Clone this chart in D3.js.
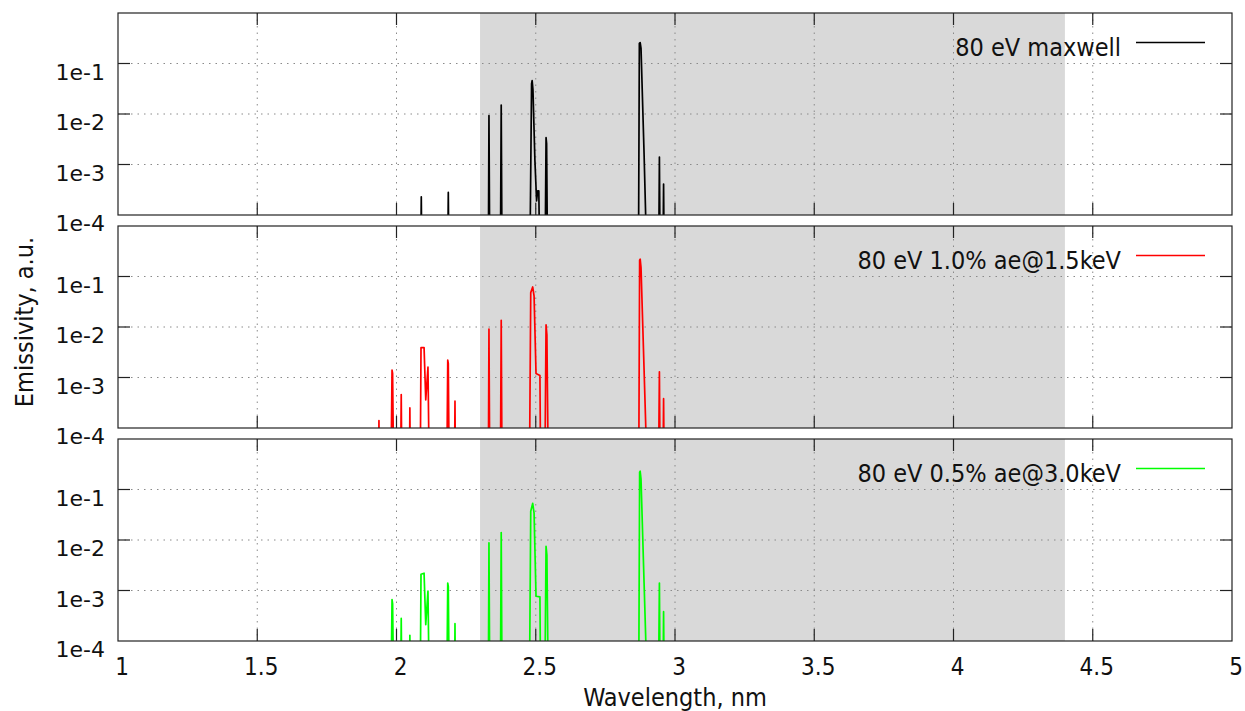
<!DOCTYPE html>
<html>
<head>
<title>Emissivity spectra</title>
<style>
body { margin: 0; background: white; }
text {
    font-family: "DejaVu Sans Condensed", "DejaVu Sans", sans-serif;
    font-stretch: condensed;
    fill: #111;
}
.ytick text { font-family: "DejaVu Sans", sans-serif; font-stretch: normal; font-size: 22px; }
.xtick text { font-size: 24px; }
.legend text { font-size: 25px; }
.title { font-size: 25px; }
.grid line {
    stroke: #8a8a8a;
    stroke-width: 1;
    stroke-dasharray: 1.5, 5;
}
.frame { fill: none; stroke: #222; stroke-width: 1.2; }
.ticks line { stroke: #222; stroke-width: 1.2; }
.band { fill: #d9d9d9; }
.spectrum { fill: none; stroke-width: 1.7; stroke-linejoin: round; }
</style>
</head>
<body>
<div id="chart"></div>
<script src="https://cdn.jsdelivr.net/npm/d3@7"></script>
<script>
    // axis values
    var xTicks = [1, 1.5, 2, 2.5, 3, 3.5, 4, 4.5, 5];
    var yTicks = [1e-4, 1e-3, 1e-2, 1e-1];
    var yTickLabels = ["1e-4", "1e-3", "1e-2", "1e-1"];
    var band = [2.3, 4.4];   // shaded wavelength window, nm

    var seriesNames = ["80 eV maxwell", "80 eV 1.0% ae@1.5keV", "80 eV 0.5% ae@3.0keV"];
    var seriesColors = ["#000000", "#ff0000", "#00ff00"];

    // [wavelength nm, emissivity a.u.] (1e-6 = line wing, under the axis)
    var maxwell = [
        [1.90, 1e-6],
        [2.085, 1e-6], [2.089, 2.3e-4], [2.093, 1e-6],
        [2.182, 1e-6], [2.186, 2.8e-4], [2.190, 1e-6],
        [2.329, 1e-6], [2.332, 9.3e-3], [2.336, 1e-6],
        [2.372, 1e-6], [2.376, 1.5e-2], [2.380, 1e-6],
        [2.477, 1e-6], [2.485, 4.0e-2], [2.487, 4.6e-2], [2.490, 3.0e-2], [2.497, 1.2e-3],
        [2.503, 1.9e-4], [2.507, 3.0e-4], [2.511, 3.0e-4], [2.517, 1e-6],
        [2.532, 1e-6], [2.537, 3.4e-3], [2.539, 2.6e-3], [2.544, 1e-6],
        [2.868, 1e-6], [2.872, 0.25], [2.875, 0.26], [2.878, 0.2], [2.889, 1.6e-3], [2.904, 1e-6],
        [2.940, 1e-6], [2.944, 1.4e-3], [2.948, 1e-6],
        [2.955, 1e-6], [2.959, 4.1e-4], [2.963, 1e-6],
        [3.10, 1e-6]
    ];
    var ae15 = [
        [1.90, 1e-6],
        [1.934, 1e-6], [1.937, 1.4e-4], [1.940, 1e-6],
        [1.978, 1e-6], [1.984, 1.4e-3], [1.986, 1.2e-3], [1.992, 1e-6],
        [2.013, 1e-6], [2.017, 4.6e-4], [2.021, 1e-6],
        [2.045, 1e-6], [2.048, 2.5e-4], [2.051, 1e-6],
        [2.084, 1e-6], [2.088, 3.9e-3], [2.099, 3.9e-3], [2.105, 3.6e-4], [2.113, 1.6e-3], [2.120, 1e-6],
        [2.179, 1e-6], [2.184, 2.2e-3], [2.186, 1.9e-3], [2.191, 1e-6],
        [2.207, 1e-6], [2.210, 3.4e-4], [2.213, 1e-6],
        [2.329, 1e-6], [2.332, 9.1e-3], [2.336, 1e-6],
        [2.372, 1e-6], [2.376, 1.36e-2], [2.380, 1e-6],
        [2.476, 1e-6], [2.482, 4.8e-2], [2.489, 6.2e-2], [2.494, 4.1e-2], [2.501, 1.2e-3],
        [2.515, 1.1e-3], [2.519, 1e-6],
        [2.531, 1e-6], [2.537, 1.1e-2], [2.540, 7.0e-3], [2.547, 1e-6],
        [2.869, 1e-6], [2.873, 0.21], [2.875, 0.22], [2.878, 0.15], [2.889, 1.4e-3], [2.906, 1e-6],
        [2.939, 1e-6], [2.944, 1.3e-3], [2.948, 1e-6],
        [2.955, 1e-6], [2.959, 3.8e-4], [2.963, 1e-6],
        [3.10, 1e-6]
    ];
    var ae30 = [
        [1.90, 1e-6],
        [1.978, 1e-6], [1.984, 6.6e-4], [1.986, 5.5e-4], [1.992, 1e-6],
        [2.013, 1e-6], [2.017, 2.8e-4], [2.021, 1e-6],
        [2.045, 1e-6], [2.048, 1.3e-4], [2.051, 1e-6],
        [2.084, 1e-6], [2.088, 2.1e-3], [2.099, 2.2e-3], [2.105, 2.1e-4], [2.113, 9.7e-4], [2.120, 1e-6],
        [2.179, 1e-6], [2.184, 1.4e-3], [2.186, 1.2e-3], [2.191, 1e-6],
        [2.207, 1e-6], [2.210, 2.2e-4], [2.213, 1e-6],
        [2.329, 1e-6], [2.332, 8.8e-3], [2.336, 1e-6],
        [2.372, 1e-6], [2.376, 1.4e-2], [2.380, 1e-6],
        [2.476, 1e-6], [2.482, 3.7e-2], [2.489, 5.3e-2], [2.494, 3.4e-2], [2.501, 7.7e-4],
        [2.515, 7.5e-4], [2.519, 1e-6],
        [2.531, 1e-6], [2.537, 7.5e-3], [2.540, 5.0e-3], [2.547, 1e-6],
        [2.869, 1e-6], [2.873, 0.22], [2.875, 0.23], [2.878, 0.16], [2.889, 1.4e-3], [2.906, 1e-6],
        [2.939, 1e-6], [2.944, 1.4e-3], [2.948, 1e-6],
        [2.955, 1e-6], [2.959, 3.8e-4], [2.963, 1e-6],
        [3.10, 1e-6]
    ];
    var seriesData = [maxwell, ae15, ae30];

    var dimensions = { width: 1245, height: 711 };
    var plot = { left: 118, right: 1232, top: 13, panelHeight: 202, gap: 11 };
    var tickLen = 12;

    var svg = d3.select("#chart")
        .append("svg")
        .attr("width", dimensions.width)
        .attr("height", dimensions.height);

    var xscale = d3.scaleLinear()
        .domain([1, 5])
        .range([plot.left, plot.right]);

    function draw_panel(i) {
        var top = plot.top + i * (plot.panelHeight + plot.gap);
        var bottom = top + plot.panelHeight;
        var yscale = d3.scaleLog()
            .domain([1e-4, 1])
            .range([bottom, top]);

        var g = svg.append("g").attr("class", "panel");

        g.append("clipPath")
            .attr("id", "clip" + i)
            .append("rect")
            .attr("x", plot.left)
            .attr("y", top)
            .attr("width", plot.right - plot.left)
            .attr("height", plot.panelHeight);

        g.append("rect")
            .attr("class", "band")
            .attr("x", xscale(band[0]))
            .attr("y", top)
            .attr("width", xscale(band[1]) - xscale(band[0]))
            .attr("height", plot.panelHeight);

        var grid = g.append("g").attr("class", "grid");
        grid.selectAll("line.gx")
            .data(xTicks.slice(1, -1))
            .enter().append("line")
            .attr("x1", function(d) { return xscale(d); })
            .attr("x2", function(d) { return xscale(d); })
            .attr("y1", top)
            .attr("y2", bottom);
        grid.selectAll("line.gy")
            .data(yTicks.slice(1))
            .enter().append("line")
            .attr("x1", plot.left)
            .attr("x2", plot.right)
            .attr("y1", function(d) { return yscale(d); })
            .attr("y2", function(d) { return yscale(d); });

        var line = d3.line()
            .x(function(d) { return xscale(d[0]); })
            .y(function(d) { return yscale(d[1]); });

        // wings go below 1e-4, the clip cuts them at the axis
        g.append("path")
            .attr("class", "spectrum")
            .attr("clip-path", "url(#clip" + i + ")")
            .attr("stroke", seriesColors[i])
            .attr("d", line(seriesData[i]));

        g.append("rect")
            .attr("class", "frame")
            .attr("x", plot.left)
            .attr("y", top)
            .attr("width", plot.right - plot.left)
            .attr("height", plot.panelHeight);

        var ticks = g.append("g").attr("class", "ticks");
        xTicks.slice(1, -1).forEach(function(t) {
            ticks.append("line")
                .attr("x1", xscale(t)).attr("x2", xscale(t))
                .attr("y1", bottom).attr("y2", bottom - tickLen);
            ticks.append("line")
                .attr("x1", xscale(t)).attr("x2", xscale(t))
                .attr("y1", top).attr("y2", top + tickLen);
        });
        yTicks.slice(1).forEach(function(t) {
            ticks.append("line")
                .attr("x1", plot.left).attr("x2", plot.left + tickLen)
                .attr("y1", yscale(t)).attr("y2", yscale(t));
            ticks.append("line")
                .attr("x1", plot.right).attr("x2", plot.right - tickLen)
                .attr("y1", yscale(t)).attr("y2", yscale(t));
        });

        var ylab = g.append("g").attr("class", "ytick");
        ylab.selectAll("text")
            .data(yTicks)
            .enter().append("text")
            .attr("x", plot.left - 13)
            .attr("y", function(d) { return yscale(d) + 16; })
            .attr("text-anchor", "end")
            .text(function(d, k) { return yTickLabels[k]; });

        var legend = g.append("g").attr("class", "legend");
        legend.append("text")
            .attr("x", 1121)
            .attr("y", top + 43)
            .attr("text-anchor", "end")
            .text(seriesNames[i]);
        legend.append("line")
            .attr("x1", 1136)
            .attr("x2", 1205)
            .attr("y1", top + 29.5)
            .attr("y2", top + 29.5)
            .attr("stroke", seriesColors[i])
            .attr("stroke-width", 1.6);

        return bottom;
    }

    var lastBottom;
    for (var i = 0; i < seriesData.length; i++) {
        lastBottom = draw_panel(i);
    }

    svg.append("g")
        .attr("class", "xtick")
        .selectAll("text")
        .data(xTicks)
        .enter().append("text")
        .attr("x", function(d) { return xscale(d) + 4; })
        .attr("y", lastBottom + 34)
        .attr("text-anchor", "middle")
        .text(function(d) { return d; });

    svg.append("text")
        .attr("class", "title")
        .attr("x", (plot.left + plot.right) / 2)
        .attr("y", 706)
        .attr("text-anchor", "middle")
        .text("Wavelength, nm");

    svg.append("text")
        .attr("class", "title")
        .attr("transform", "translate(33, 322) rotate(-90)")
        .attr("text-anchor", "middle")
        .text("Emissivity, a.u.");
</script>
</body>
</html>
